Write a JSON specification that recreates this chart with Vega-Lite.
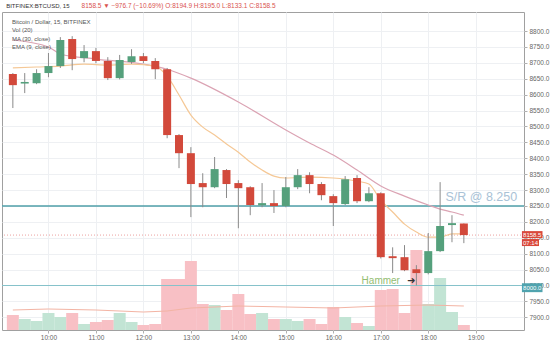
{
  "$schema": "https://vega.github.io/schema/vega-lite/v6.json",
  "width": 522,
  "height": 318,
  "autosize": {"type": "none"},
  "padding": {"left": 2, "top": 12, "right": 26, "bottom": 15},
  "background": "white",
  "config": {
    "font": "Liberation Sans",
    "view": {"stroke": "#a0a0a0", "strokeWidth": 1},
    "axis": {"labelFont": "Liberation Sans", "labelFontSize": 6.5, "labelColor": "#666666", "gridColor": "#eef0f3", "tickColor": "#b0b0b0", "tickSize": 3, "domain": false, "labelOverlap": false}
  },
  "datasets": {
    "candles": [
      {"time": "09:15", "m": 555, "o": 8665, "h": 8668, "l": 8558, "c": 8630, "v": 150},
      {"time": "09:30", "m": 570, "o": 8635, "h": 8668, "l": 8605, "c": 8640, "v": 110},
      {"time": "09:45", "m": 585, "o": 8636, "h": 8680, "l": 8633, "c": 8668, "v": 90},
      {"time": "10:00", "m": 600, "o": 8668, "h": 8731, "l": 8655, "c": 8690, "v": 170},
      {"time": "10:15", "m": 615, "o": 8690, "h": 8781, "l": 8684, "c": 8772, "v": 130},
      {"time": "10:30", "m": 630, "o": 8775, "h": 8784, "l": 8677, "c": 8712, "v": 170},
      {"time": "10:45", "m": 645, "o": 8715, "h": 8756, "l": 8702, "c": 8737, "v": 60},
      {"time": "11:00", "m": 660, "o": 8737, "h": 8747, "l": 8699, "c": 8706, "v": 80},
      {"time": "11:15", "m": 675, "o": 8706, "h": 8718, "l": 8646, "c": 8652, "v": 100},
      {"time": "11:30", "m": 690, "o": 8652, "h": 8725, "l": 8648, "c": 8709, "v": 170},
      {"time": "11:45", "m": 705, "o": 8703, "h": 8743, "l": 8697, "c": 8721, "v": 80},
      {"time": "12:00", "m": 720, "o": 8721, "h": 8731, "l": 8699, "c": 8706, "v": 50},
      {"time": "12:15", "m": 735, "o": 8706, "h": 8715, "l": 8649, "c": 8680, "v": 60},
      {"time": "12:30", "m": 750, "o": 8680, "h": 8684, "l": 8463, "c": 8473, "v": 510},
      {"time": "12:45", "m": 765, "o": 8473, "h": 8476, "l": 8369, "c": 8416, "v": 510},
      {"time": "13:00", "m": 780, "o": 8416, "h": 8435, "l": 8215, "c": 8319, "v": 690},
      {"time": "13:15", "m": 795, "o": 8322, "h": 8353, "l": 8246, "c": 8309, "v": 260},
      {"time": "13:30", "m": 810, "o": 8309, "h": 8404, "l": 8306, "c": 8366, "v": 250},
      {"time": "13:45", "m": 825, "o": 8363, "h": 8366, "l": 8275, "c": 8319, "v": 200},
      {"time": "14:00", "m": 840, "o": 8322, "h": 8331, "l": 8180, "c": 8306, "v": 360},
      {"time": "14:15", "m": 855, "o": 8309, "h": 8312, "l": 8221, "c": 8253, "v": 160},
      {"time": "14:30", "m": 870, "o": 8252, "h": 8322, "l": 8246, "c": 8259, "v": 170},
      {"time": "14:45", "m": 885, "o": 8259, "h": 8300, "l": 8228, "c": 8250, "v": 110},
      {"time": "15:00", "m": 900, "o": 8250, "h": 8341, "l": 8246, "c": 8309, "v": 110},
      {"time": "15:15", "m": 915, "o": 8309, "h": 8366, "l": 8303, "c": 8347, "v": 90},
      {"time": "15:30", "m": 930, "o": 8347, "h": 8356, "l": 8290, "c": 8319, "v": 110},
      {"time": "15:45", "m": 945, "o": 8319, "h": 8325, "l": 8268, "c": 8284, "v": 60},
      {"time": "16:00", "m": 960, "o": 8281, "h": 8287, "l": 8187, "c": 8259, "v": 230},
      {"time": "16:15", "m": 975, "o": 8256, "h": 8344, "l": 8253, "c": 8334, "v": 130},
      {"time": "16:30", "m": 990, "o": 8338, "h": 8347, "l": 8259, "c": 8265, "v": 70},
      {"time": "16:45", "m": 1005, "o": 8265, "h": 8309, "l": 8262, "c": 8290, "v": 40},
      {"time": "17:00", "m": 1020, "o": 8290, "h": 8293, "l": 8085, "c": 8089, "v": 400},
      {"time": "17:15", "m": 1035, "o": 8092, "h": 8120, "l": 8039, "c": 8086, "v": 410},
      {"time": "17:30", "m": 1050, "o": 8089, "h": 8127, "l": 8045, "c": 8048, "v": 170},
      {"time": "17:45", "m": 1065, "o": 8051, "h": 8064, "l": 8000, "c": 8039, "v": 800},
      {"time": "18:00", "m": 1080, "o": 8039, "h": 8165, "l": 8035, "c": 8108, "v": 260},
      {"time": "18:15", "m": 1095, "o": 8108, "h": 8325, "l": 8105, "c": 8187, "v": 520},
      {"time": "18:30", "m": 1110, "o": 8190, "h": 8221, "l": 8136, "c": 8196, "v": 180},
      {"time": "18:45", "m": 1125, "o": 8194.9, "h": 8195, "l": 8133.1, "c": 8158.5, "v": 50}
    ],
    "ma": [
      {"m": 555, "p": 8772}, {"m": 600, "p": 8750}, {"m": 615, "p": 8728}, {"m": 660, "p": 8712},
      {"m": 720, "p": 8696}, {"m": 750, "p": 8680}, {"m": 780, "p": 8652}, {"m": 840, "p": 8577},
      {"m": 900, "p": 8489}, {"m": 930, "p": 8448}, {"m": 960, "p": 8410}, {"m": 990, "p": 8363},
      {"m": 1020, "p": 8313}, {"m": 1050, "p": 8281}, {"m": 1080, "p": 8253}, {"m": 1095, "p": 8240},
      {"m": 1110, "p": 8231}, {"m": 1125, "p": 8221}
    ],
    "ema": [
      {"m": 555, "p": 8684}, {"m": 585, "p": 8687}, {"m": 615, "p": 8690}, {"m": 645, "p": 8696},
      {"m": 675, "p": 8693}, {"m": 705, "p": 8696}, {"m": 735, "p": 8690}, {"m": 750, "p": 8658},
      {"m": 765, "p": 8599}, {"m": 780, "p": 8536}, {"m": 795, "p": 8498}, {"m": 810, "p": 8473},
      {"m": 825, "p": 8445}, {"m": 840, "p": 8419}, {"m": 855, "p": 8388}, {"m": 870, "p": 8363},
      {"m": 885, "p": 8344}, {"m": 900, "p": 8338}, {"m": 930, "p": 8341}, {"m": 960, "p": 8338},
      {"m": 990, "p": 8328}, {"m": 1005, "p": 8319}, {"m": 1020, "p": 8268}, {"m": 1035, "p": 8231},
      {"m": 1050, "p": 8193}, {"m": 1065, "p": 8168}, {"m": 1080, "p": 8152}, {"m": 1095, "p": 8152},
      {"m": 1110, "p": 8162}, {"m": 1125, "p": 8162}
    ],
    "volma": [
      {"m": 555, "v": 200}, {"m": 600, "v": 210}, {"m": 660, "v": 200}, {"m": 720, "v": 180},
      {"m": 750, "v": 190}, {"m": 780, "v": 220}, {"m": 840, "v": 240}, {"m": 900, "v": 230},
      {"m": 960, "v": 220}, {"m": 1020, "v": 240}, {"m": 1080, "v": 250}, {"m": 1125, "v": 240}
    ]
  },
  "layer": [
    {
      "layer": [
        {
          "data": {"name": "candles"},
          "mark": {"type": "bar", "size": 12},
          "encoding": {
            "x": {"field": "m", "type": "quantitative", "title": null, "scale": {"domain": [547.6, 1194.7], "nice": false, "zero": false},
              "axis": {"values": [600, 660, 720, 780, 840, 900, 960, 1020, 1080, 1140], "labelExpr": "floor(datum.value / 60) + ':00'", "grid": true, "labelPadding": 1, "labelFlush": false, "labelOverlap": false}},
            "y": {"field": "v", "type": "quantitative", "title": null, "scale": {"domain": [0, 3180], "nice": false}, "axis": null},
            "color": {"condition": {"test": "datum.c >= datum.o", "value": "#c2e4d4"}, "value": "#f8c0c5"}
          }
        },
        {
          "data": {"name": "volma"},
          "mark": {"type": "line", "color": "#f3b4a4", "strokeWidth": 1},
          "encoding": {
            "x": {"field": "m", "type": "quantitative", "title": null, "scale": {"domain": [547.6, 1194.7], "nice": false, "zero": false},
              "axis": {"values": [600, 660, 720, 780, 840, 900, 960, 1020, 1080, 1140], "labelExpr": "floor(datum.value / 60) + ':00'", "grid": true, "labelPadding": 1, "labelFlush": false, "labelOverlap": false}},
            "y": {"field": "v", "type": "quantitative", "title": null, "scale": {"domain": [0, 3180], "nice": false}, "axis": null}
          }
        }
      ]
    },
    {
      "layer": [
        {
          "data": {"values": [{"p": 8250}]},
          "mark": {"type": "rule", "color": "#4f9fa9", "strokeWidth": 1.5},
          "encoding": {"y": {"field": "p", "type": "quantitative", "title": null, "scale": {"domain": [7860, 8860], "nice": false, "zero": false},
            "axis": {"orient": "right", "values": [7900, 7950, 8000, 8050, 8100, 8150, 8200, 8250, 8300, 8350, 8400, 8450, 8500, 8550, 8600, 8650, 8700, 8750, 8800], "tickCount": 20, "format": ".1f", "grid": true, "labelPadding": 2, "labelOverlap": false, "labelBound": false}}}
        },
        {
          "data": {"values": [{"p": 8000}]},
          "mark": {"type": "rule", "color": "#86c2ca", "strokeWidth": 1.2},
          "encoding": {"y": {"field": "p", "type": "quantitative", "title": null, "scale": {"domain": [7860, 8860], "nice": false, "zero": false},
            "axis": {"orient": "right", "values": [7900, 7950, 8000, 8050, 8100, 8150, 8200, 8250, 8300, 8350, 8400, 8450, 8500, 8550, 8600, 8650, 8700, 8750, 8800], "tickCount": 20, "format": ".1f", "grid": true, "labelPadding": 2, "labelOverlap": false, "labelBound": false}}}
        },
        {
          "data": {"values": [{"p": 8158.5}]},
          "mark": {"type": "rule", "color": "#eba2a0", "strokeWidth": 1, "strokeDash": [1, 2]},
          "encoding": {"y": {"field": "p", "type": "quantitative", "title": null, "scale": {"domain": [7860, 8860], "nice": false, "zero": false},
            "axis": {"orient": "right", "values": [7900, 7950, 8000, 8050, 8100, 8150, 8200, 8250, 8300, 8350, 8400, 8450, 8500, 8550, 8600, 8650, 8700, 8750, 8800], "tickCount": 20, "format": ".1f", "grid": true, "labelPadding": 2, "labelOverlap": false, "labelBound": false}}}
        },
        {
          "data": {"name": "ma"},
          "mark": {"type": "line", "color": "#dba3b3", "strokeWidth": 1.2, "interpolate": "monotone"},
          "encoding": {
            "x": {"field": "m", "type": "quantitative", "title": null, "scale": {"domain": [547.6, 1194.7], "nice": false, "zero": false},
              "axis": {"values": [600, 660, 720, 780, 840, 900, 960, 1020, 1080, 1140], "labelExpr": "floor(datum.value / 60) + ':00'", "grid": true, "labelPadding": 1, "labelFlush": false, "labelOverlap": false}},
            "y": {"field": "p", "type": "quantitative", "title": null, "scale": {"domain": [7860, 8860], "nice": false, "zero": false},
              "axis": {"orient": "right", "values": [7900, 7950, 8000, 8050, 8100, 8150, 8200, 8250, 8300, 8350, 8400, 8450, 8500, 8550, 8600, 8650, 8700, 8750, 8800], "tickCount": 20, "format": ".1f", "grid": true, "labelPadding": 2, "labelOverlap": false, "labelBound": false}}
          }
        },
        {
          "data": {"name": "ema"},
          "mark": {"type": "line", "color": "#f5c896", "strokeWidth": 1.2, "interpolate": "monotone"},
          "encoding": {
            "x": {"field": "m", "type": "quantitative", "title": null, "scale": {"domain": [547.6, 1194.7], "nice": false, "zero": false},
              "axis": {"values": [600, 660, 720, 780, 840, 900, 960, 1020, 1080, 1140], "labelExpr": "floor(datum.value / 60) + ':00'", "grid": true, "labelPadding": 1, "labelFlush": false, "labelOverlap": false}},
            "y": {"field": "p", "type": "quantitative", "title": null, "scale": {"domain": [7860, 8860], "nice": false, "zero": false},
              "axis": {"orient": "right", "values": [7900, 7950, 8000, 8050, 8100, 8150, 8200, 8250, 8300, 8350, 8400, 8450, 8500, 8550, 8600, 8650, 8700, 8750, 8800], "tickCount": 20, "format": ".1f", "grid": true, "labelPadding": 2, "labelOverlap": false, "labelBound": false}}
          }
        },
        {
          "data": {"name": "candles"},
          "mark": {"type": "rule", "color": "#8a8a8a", "strokeWidth": 1},
          "encoding": {
            "x": {"field": "m", "type": "quantitative", "title": null, "scale": {"domain": [547.6, 1194.7], "nice": false, "zero": false},
              "axis": {"values": [600, 660, 720, 780, 840, 900, 960, 1020, 1080, 1140], "labelExpr": "floor(datum.value / 60) + ':00'", "grid": true, "labelPadding": 1, "labelFlush": false, "labelOverlap": false}},
            "y": {"field": "l", "type": "quantitative", "title": null, "scale": {"domain": [7860, 8860], "nice": false, "zero": false},
              "axis": {"orient": "right", "values": [7900, 7950, 8000, 8050, 8100, 8150, 8200, 8250, 8300, 8350, 8400, 8450, 8500, 8550, 8600, 8650, 8700, 8750, 8800], "tickCount": 20, "format": ".1f", "grid": true, "labelPadding": 2, "labelOverlap": false, "labelBound": false}},
            "y2": {"field": "h"}
          }
        },
        {
          "data": {"name": "candles"},
          "mark": {"type": "bar", "size": 8},
          "encoding": {
            "x": {"field": "m", "type": "quantitative", "title": null, "scale": {"domain": [547.6, 1194.7], "nice": false, "zero": false},
              "axis": {"values": [600, 660, 720, 780, 840, 900, 960, 1020, 1080, 1140], "labelExpr": "floor(datum.value / 60) + ':00'", "grid": true, "labelPadding": 1, "labelFlush": false, "labelOverlap": false}},
            "y": {"field": "o", "type": "quantitative", "title": null, "scale": {"domain": [7860, 8860], "nice": false, "zero": false},
              "axis": {"orient": "right", "values": [7900, 7950, 8000, 8050, 8100, 8150, 8200, 8250, 8300, 8350, 8400, 8450, 8500, 8550, 8600, 8650, 8700, 8750, 8800], "tickCount": 20, "format": ".1f", "grid": true, "labelPadding": 2, "labelOverlap": false, "labelBound": false}},
            "y2": {"field": "c"},
            "color": {"condition": {"test": "datum.c >= datum.o", "value": "#55a07c"}, "value": "#d2493b"}
          }
        },
        {
          "data": {"values": [
            {"m": 553.8, "p": 8828, "label": "Bitcoin / Dollar, 15, BITFINEX"},
            {"m": 553.8, "p": 8803, "label": "Vol (20)"},
            {"m": 553.8, "p": 8776, "label": "MA (30, close)"},
            {"m": 553.8, "p": 8750, "label": "EMA (9, close)"},
            {"m": 546.5, "p": 8879, "label": "BITFINEX:BTCUSD, 15"}
          ]},
          "mark": {"type": "text", "align": "left", "baseline": "middle", "fontSize": 6, "color": "#555555"},
          "encoding": {
            "x": {"field": "m", "type": "quantitative", "title": null, "scale": {"domain": [547.6, 1194.7], "nice": false, "zero": false},
              "axis": {"values": [600, 660, 720, 780, 840, 900, 960, 1020, 1080, 1140], "labelExpr": "floor(datum.value / 60) + ':00'", "grid": true, "labelPadding": 1, "labelFlush": false, "labelOverlap": false}},
            "y": {"field": "p", "type": "quantitative", "title": null, "scale": {"domain": [7860, 8860], "nice": false, "zero": false},
              "axis": {"orient": "right", "values": [7900, 7950, 8000, 8050, 8100, 8150, 8200, 8250, 8300, 8350, 8400, 8450, 8500, 8550, 8600, 8650, 8700, 8750, 8800], "tickCount": 20, "format": ".1f", "grid": true, "labelPadding": 2, "labelOverlap": false, "labelBound": false}},
            "text": {"field": "label"},
            "fontWeight": {"condition": {"test": "datum.p > 8860", "value": "bold"}, "value": "normal"},
            "fontSize": {"condition": {"test": "datum.p > 8860", "value": 6.5}, "value": 6},
            "color": {"condition": {"test": "datum.p > 8860", "value": "#333333"}, "value": "#555555"}
          }
        },
        {
          "data": {"values": [
            {"m": 641.8, "p": 8879, "label": "8158.5 ▼ −976.7 (−10.69%)  O:8194.9 H:8195.0 L:8133.1 C:8158.5"}
          ]},
          "mark": {"type": "text", "align": "left", "baseline": "middle", "fontSize": 6.5, "color": "#d9534f"},
          "encoding": {
            "x": {"field": "m", "type": "quantitative", "title": null, "scale": {"domain": [547.6, 1194.7], "nice": false, "zero": false},
              "axis": {"values": [600, 660, 720, 780, 840, 900, 960, 1020, 1080, 1140], "labelExpr": "floor(datum.value / 60) + ':00'", "grid": true, "labelPadding": 1, "labelFlush": false, "labelOverlap": false}},
            "y": {"field": "p", "type": "quantitative", "title": null, "scale": {"domain": [7860, 8860], "nice": false, "zero": false},
              "axis": {"orient": "right", "values": [7900, 7950, 8000, 8050, 8100, 8150, 8200, 8250, 8300, 8350, 8400, 8450, 8500, 8550, 8600, 8650, 8700, 8750, 8800], "tickCount": 20, "format": ".1f", "grid": true, "labelPadding": 2, "labelOverlap": false, "labelBound": false}},
            "text": {"field": "label"}
          }
        },
        {
          "data": {"values": [{"m": 1020, "p": 8014, "label": "Hammer"}]},
          "mark": {"type": "text", "align": "center", "baseline": "middle", "fontSize": 10, "color": "#93bd72"},
          "encoding": {
            "x": {"field": "m", "type": "quantitative", "title": null, "scale": {"domain": [547.6, 1194.7], "nice": false, "zero": false},
              "axis": {"values": [600, 660, 720, 780, 840, 900, 960, 1020, 1080, 1140], "labelExpr": "floor(datum.value / 60) + ':00'", "grid": true, "labelPadding": 1, "labelFlush": false, "labelOverlap": false}},
            "y": {"field": "p", "type": "quantitative", "title": null, "scale": {"domain": [7860, 8860], "nice": false, "zero": false},
              "axis": {"orient": "right", "values": [7900, 7950, 8000, 8050, 8100, 8150, 8200, 8250, 8300, 8350, 8400, 8450, 8500, 8550, 8600, 8650, 8700, 8750, 8800], "tickCount": 20, "format": ".1f", "grid": true, "labelPadding": 2, "labelOverlap": false, "labelBound": false}},
            "text": {"field": "label"}
          }
        },
        {
          "data": {"values": [{"m": 1058.3, "p": 8014, "label": "➜"}]},
          "mark": {"type": "text", "align": "center", "baseline": "middle", "fontSize": 10, "color": "#333333", "font": "DejaVu Sans"},
          "encoding": {
            "x": {"field": "m", "type": "quantitative", "title": null, "scale": {"domain": [547.6, 1194.7], "nice": false, "zero": false},
              "axis": {"values": [600, 660, 720, 780, 840, 900, 960, 1020, 1080, 1140], "labelExpr": "floor(datum.value / 60) + ':00'", "grid": true, "labelPadding": 1, "labelFlush": false, "labelOverlap": false}},
            "y": {"field": "p", "type": "quantitative", "title": null, "scale": {"domain": [7860, 8860], "nice": false, "zero": false},
              "axis": {"orient": "right", "values": [7900, 7950, 8000, 8050, 8100, 8150, 8200, 8250, 8300, 8350, 8400, 8450, 8500, 8550, 8600, 8650, 8700, 8750, 8800], "tickCount": 20, "format": ".1f", "grid": true, "labelPadding": 2, "labelOverlap": false, "labelBound": false}},
            "text": {"field": "label"}
          }
        },
        {
          "data": {"values": [{"m": 1101.7, "p": 8278, "label": "S/R @ 8.250"}]},
          "mark": {"type": "text", "align": "left", "baseline": "middle", "fontSize": 12.5, "color": "#a9c2d6"},
          "encoding": {
            "x": {"field": "m", "type": "quantitative", "title": null, "scale": {"domain": [547.6, 1194.7], "nice": false, "zero": false},
              "axis": {"values": [600, 660, 720, 780, 840, 900, 960, 1020, 1080, 1140], "labelExpr": "floor(datum.value / 60) + ':00'", "grid": true, "labelPadding": 1, "labelFlush": false, "labelOverlap": false}},
            "y": {"field": "p", "type": "quantitative", "title": null, "scale": {"domain": [7860, 8860], "nice": false, "zero": false},
              "axis": {"orient": "right", "values": [7900, 7950, 8000, 8050, 8100, 8150, 8200, 8250, 8300, 8350, 8400, 8450, 8500, 8550, 8600, 8650, 8700, 8750, 8800], "tickCount": 20, "format": ".1f", "grid": true, "labelPadding": 2, "labelOverlap": false, "labelBound": false}},
            "text": {"field": "label"}
          }
        },
        {
          "data": {"values": [
            {"m": 1198.4, "m2": 1224.4, "p1": 8171, "p2": 8149, "kind": "price"},
            {"m": 1198.4, "m2": 1220, "p1": 8146, "p2": 8124, "kind": "price"},
            {"m": 1198.4, "m2": 1224.4, "p1": 8007, "p2": 7979, "kind": "level"}
          ]},
          "mark": {"type": "rect"},
          "encoding": {
            "x": {"field": "m", "type": "quantitative", "title": null, "scale": {"domain": [547.6, 1194.7], "nice": false, "zero": false},
              "axis": {"values": [600, 660, 720, 780, 840, 900, 960, 1020, 1080, 1140], "labelExpr": "floor(datum.value / 60) + ':00'", "grid": true, "labelPadding": 1, "labelFlush": false, "labelOverlap": false}},
            "x2": {"field": "m2"},
            "y": {"field": "p1", "type": "quantitative", "title": null, "scale": {"domain": [7860, 8860], "nice": false, "zero": false},
              "axis": {"orient": "right", "values": [7900, 7950, 8000, 8050, 8100, 8150, 8200, 8250, 8300, 8350, 8400, 8450, 8500, 8550, 8600, 8650, 8700, 8750, 8800], "tickCount": 20, "format": ".1f", "grid": true, "labelPadding": 2, "labelOverlap": false, "labelBound": false}},
            "y2": {"field": "p2"},
            "color": {"condition": {"test": "datum.kind === 'level'", "value": "#4fa3ae"}, "value": "#d9483b"}
          }
        },
        {
          "data": {"values": [
            {"m": 1211.4, "p": 8160, "label": "8158.5"},
            {"m": 1209.2, "p": 8135, "label": "07:14"},
            {"m": 1211.4, "p": 7993, "label": "8000.0"}
          ]},
          "mark": {"type": "text", "align": "center", "baseline": "middle", "fontSize": 6, "color": "white"},
          "encoding": {
            "x": {"field": "m", "type": "quantitative", "title": null, "scale": {"domain": [547.6, 1194.7], "nice": false, "zero": false},
              "axis": {"values": [600, 660, 720, 780, 840, 900, 960, 1020, 1080, 1140], "labelExpr": "floor(datum.value / 60) + ':00'", "grid": true, "labelPadding": 1, "labelFlush": false, "labelOverlap": false}},
            "y": {"field": "p", "type": "quantitative", "title": null, "scale": {"domain": [7860, 8860], "nice": false, "zero": false},
              "axis": {"orient": "right", "values": [7900, 7950, 8000, 8050, 8100, 8150, 8200, 8250, 8300, 8350, 8400, 8450, 8500, 8550, 8600, 8650, 8700, 8750, 8800], "tickCount": 20, "format": ".1f", "grid": true, "labelPadding": 2, "labelOverlap": false, "labelBound": false}},
            "text": {"field": "label"}
          }
        }
      ]
    }
  ],
  "resolve": {"scale": {"y": "independent"}, "axis": {"y": "independent"}}
}
